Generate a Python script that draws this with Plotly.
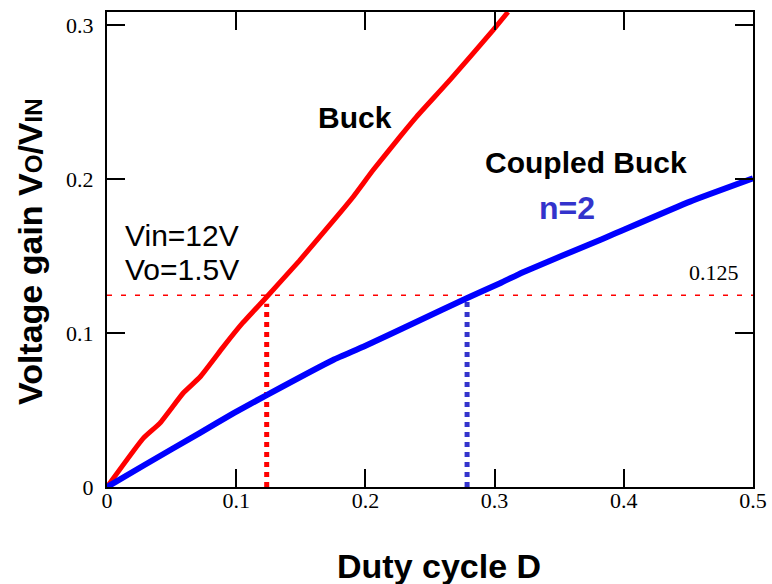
import plotly.graph_objects as go

# Duty cycle vs. voltage gain for a plain buck and a coupled-inductor buck (n=2)
buck_d = [0, 0.028, 0.041, 0.059, 0.072, 0.090, 0.105, 0.1236, 0.149, 0.1803,
          0.1906, 0.206, 0.2268, 0.2397, 0.2655, 0.299, 0.3104]
buck_gain = [0, 0.0316, 0.0415, 0.061, 0.0714, 0.091, 0.1065, 0.1234, 0.147, 0.178,
             0.1885, 0.2058, 0.2275, 0.2405, 0.2643, 0.2968, 0.3084]

coupled_d = [0, 0.028, 0.072, 0.0977, 0.1236, 0.175, 0.1984, 0.2397, 0.2784,
             0.3042, 0.322, 0.3816, 0.4512, 0.5]
coupled_gain = [0, 0.0138, 0.0352, 0.0478, 0.0597, 0.0825, 0.0911, 0.1073, 0.1225,
                0.1323, 0.1395, 0.1604, 0.1853, 0.2004]

target_gain = 0.1245          # Vo/Vin = 1.5/12
buck_d_at_target = 0.1236
coupled_d_at_target = 0.2787

x_ticks = [0, 0.1, 0.2, 0.3, 0.4, 0.5]
x_labels = ["0", "0.1", "0.2", "0.3", "0.4", "0.5"]
y_ticks = [0, 0.1, 0.2, 0.3]
y_labels = ["0", "0.1", "0.2", "0.3"]

fig = go.Figure()

# target gain reference line
fig.add_trace(go.Scatter(x=[0, 0.5], y=[target_gain, target_gain], mode="lines",
                         line=dict(color="#ff0000", width=1.5, dash="5px,9px"),
                         hoverinfo="skip"))
# drop lines to the required duty cycles
fig.add_trace(go.Scatter(x=[buck_d_at_target, buck_d_at_target], y=[0, 0.119],
                         mode="lines", line=dict(color="#ff0000", width=5, dash="dot")))
fig.add_trace(go.Scatter(x=[coupled_d_at_target, coupled_d_at_target], y=[0, 0.121],
                         mode="lines", line=dict(color="#3333cc", width=5, dash="dot")))
# gain curves
fig.add_trace(go.Scatter(x=buck_d, y=buck_gain, mode="lines",
                         line=dict(color="#ff0000", width=5, shape="spline", smoothing=0.4)))
fig.add_trace(go.Scatter(x=coupled_d, y=coupled_gain, mode="lines",
                         line=dict(color="#0000ff", width=6, shape="spline", smoothing=0.4)))

sans = "Liberation Sans, Arial, sans-serif"
serif = "Liberation Serif, Times New Roman, serif"

axis_common = dict(
    showline=True, linecolor="black", linewidth=2, mirror="ticks",
    ticks="inside", ticklen=18, tickwidth=2, tickcolor="black",
    showgrid=False, zeroline=False,
    tickfont=dict(family=serif, size=22, color="black"),
)

fig.update_layout(
    width=772, height=584,
    margin=dict(l=107, r=19, t=12, b=97),
    paper_bgcolor="white", plot_bgcolor="white",
    showlegend=False,
    xaxis=dict(range=[0, 0.5], tickvals=x_ticks, ticktext=x_labels,
               ticklabelstandoff=-7, automargin=False, **axis_common),
    yaxis=dict(range=[0, 0.3084], tickvals=y_ticks, ticktext=y_labels,
               ticklabelstandoff=7, automargin=False, **axis_common),
)

annotations = [
    dict(x=0.192, y=0.2396, text="<b>Buck</b>", font=dict(family=sans, size=30)),
    dict(x=0.3707, y=0.211, text="<b>Coupled Buck</b>", font=dict(family=sans, size=30)),
    dict(x=0.356, y=0.181, text="<b>n=2</b>", font=dict(family=sans, size=32, color="#3333cc")),
    dict(x=0.0124, y=0.1636, text="Vin=12V", xanchor="left", font=dict(family=sans, size=30)),
    dict(x=0.0124, y=0.1409, text="Vo=1.5V", xanchor="left", font=dict(family=sans, size=30)),
    dict(x=0.4695, y=0.139, text="0.125", font=dict(family=serif, size=22)),
    dict(xref="paper", yref="paper", x=(439 - 107) / 646, y=(487 - 566) / 475,
         text="<b>Duty cycle D</b>", font=dict(family=sans, size=34)),
    dict(xref="paper", yref="paper", x=(30 - 107) / 646, y=(487 - 252) / 475,
         textangle=-90,
         text="<b>Voltage gain V<span style='font-size:24px'>O</span>/V"
              "<span style='font-size:24px'>IN</span></b>",
         font=dict(family=sans, size=34)),
]
for a in annotations:
    a.setdefault("xref", "x")
    a.setdefault("yref", "y")
    a.setdefault("font", {}).setdefault("color", "black")
    a["xanchor"] = a.get("xanchor", "center")
    a["yanchor"] = "middle"
    a["showarrow"] = False
fig.update_layout(annotations=annotations)

fig.write_html("out.html")
